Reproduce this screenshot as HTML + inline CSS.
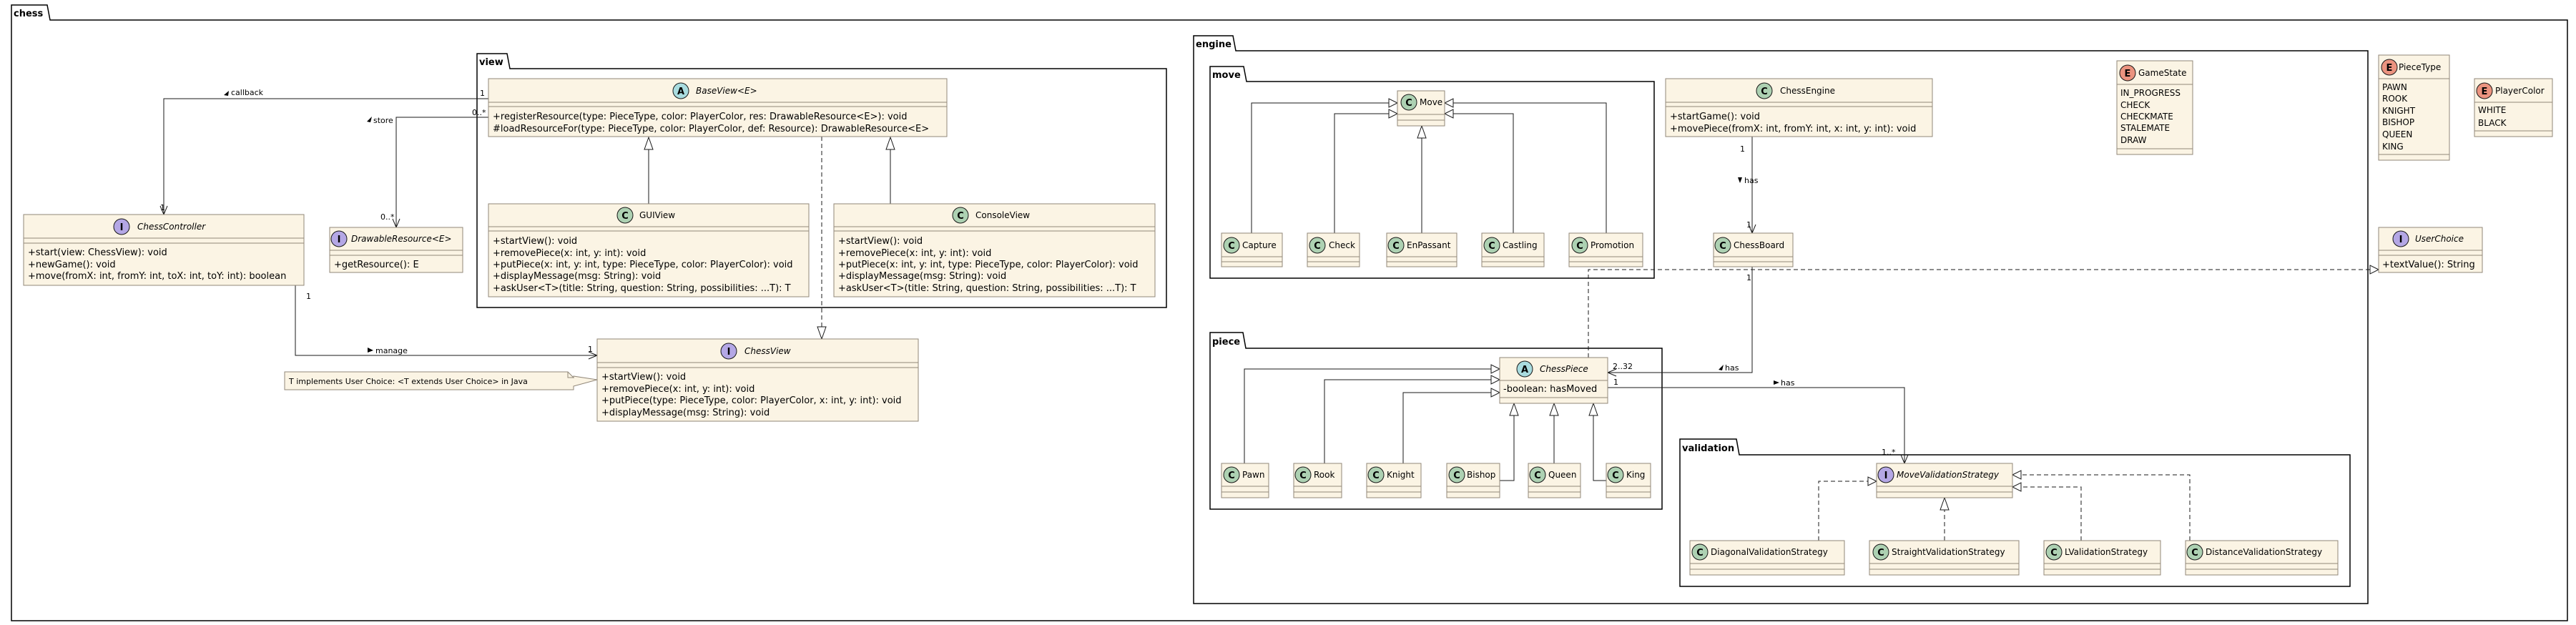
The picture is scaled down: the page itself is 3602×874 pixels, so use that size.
<!DOCTYPE html>
<html><head><meta charset="utf-8"><style>
html,body{margin:0;padding:0;background:#fff;}
svg{display:block;font-family:"DejaVu Sans","Liberation Sans",sans-serif;}
.b{fill:#FBF4E4;stroke:#918778;stroke-width:1}
.s{stroke:#918778;stroke-width:1}
.e{fill:none;stroke:#181818;stroke-width:1}
.d{stroke-dasharray:6 4}
.t{font-size:13px;fill:#000}
.h{font-size:12px;fill:#000}
.i{font-style:italic}
.m{font-size:11px;fill:#000}
.p{fill:#fff;stroke:#000;stroke-width:1.5}
.pt{font-size:13px;font-weight:bold}
.ca{fill:#A9DCDF}.cc{fill:#ADD1B2}.ci{fill:#B4A7E5}.ce{fill:#EB937F}
.ck{stroke:#181818;stroke-width:1}
.lt{font-size:13px;font-weight:bold;text-anchor:middle}
.ah{fill:none;stroke:#181818;stroke-width:1}
.tri{fill:#fff;stroke:#181818;stroke-width:1}
</style></head><body>
<svg width="3602" height="874" viewBox="0 0 3602 874" xmlns="http://www.w3.org/2000/svg">
<path class="p" d="M16,28 L16,7 L66,7 L70,28 L3590,28 L3590,868 L16,868 Z"/>
<text class="pt" x="19" y="23">chess</text>
<path class="p" d="M667,96 L667,75 L709,75 L713,96 L1631,96 L1631,430 L667,430 Z"/>
<text class="pt" x="670" y="91">view</text>
<path class="p" d="M1669,71 L1669,50 L1724,50 L1728,71 L3311,71 L3311,844 L1669,844 Z"/>
<text class="pt" x="1672" y="66">engine</text>
<path class="p" d="M1692,114 L1692,93 L1739,93 L1743,114 L2313,114 L2313,389 L1692,389 Z"/>
<text class="pt" x="1695" y="109">move</text>
<path class="p" d="M1692,487 L1692,465 L1738,465 L1742,487 L2324,487 L2324,712 L1692,712 Z"/>
<text class="pt" x="1695" y="482">piece</text>
<path class="p" d="M2349,636 L2349,614 L2428,614 L2432,636 L3286,636 L3286,820 L2349,820 Z"/>
<text class="pt" x="2352" y="631">validation</text>

<polyline class="e" points="683,138 229,138 229,300"/><polyline class="ah" points="224,288 229,300 234,288"/>
<text class="m" x="671" y="134">1</text><text class="m" x="224" y="294">1</text>
<polygon points="313,133 320,127 319,134" fill="#000"/><text class="m" x="323" y="133">callback</text>
<polyline class="e" points="683,164 554,164 554,318"/><polyline class="ah" points="549,306 554,318 559,306"/>
<text class="m" x="660" y="161">0..*</text><text class="m" x="532" y="307">0..*</text>
<polygon points="513,170 520,163 518,171" fill="#000"/><text class="m" x="522" y="172">store</text>
<polyline class="e" points="413,399 413,497 835,497"/><polyline class="ah" points="823,492 835,497 823,502"/>
<text class="m" x="428" y="418">1</text><text class="m" x="822" y="492">1</text>
<polygon points="514,486 522,490 514,493" fill="#000"/><text class="m" x="525" y="494">manage</text>
<line class="e" x1="907" y1="285" x2="907" y2="209"/><polygon class="tri" points="907,192 901,209 913,209"/>
<line class="e" x1="1245" y1="285" x2="1245" y2="209"/><polygon class="tri" points="1245,192 1239,209 1251,209"/>
<line class="e d" x1="1149" y1="191" x2="1149" y2="457"/><polygon class="tri" points="1149,474 1143,457 1155,457"/>
<path d="M398,520 L794,520 L802,528 L802,526 L835,531 L802,540 L802,545 L398,545 Z" fill="#FBF4E4" stroke="#918778"/>
<path d="M794,520 L794,528 L802,528" fill="none" stroke="#918778"/>
<text class="m" x="404" y="537">T implements User Choice: &lt;T extends User Choice&gt; in Java</text>

<polyline class="e" points="1750,326 1750,144 1942,144"/><polygon class="tri" points="1954,144 1942,138 1942,150"/>
<polyline class="e" points="1866,326 1866,159 1942,159"/><polygon class="tri" points="1954,159 1942,153 1942,165"/>
<line class="e" x1="1988" y1="326" x2="1988" y2="193"/><polygon class="tri" points="1988,176 1982,193 1994,193"/>
<polyline class="e" points="2116,326 2116,159 2032,159"/><polygon class="tri" points="2020,159 2032,153 2032,165"/>
<polyline class="e" points="2246,326 2246,144 2032,144"/><polygon class="tri" points="2020,144 2032,138 2032,150"/>
<line class="e" x1="2450" y1="191" x2="2450" y2="326"/><polyline class="ah" points="2445,314 2450,326 2455,314"/>
<text class="m" x="2433" y="212">1</text><text class="m" x="2442" y="318">1</text>
<polygon points="2430,248 2436,248 2433,256" fill="#000"/><text class="m" x="2439" y="256">has</text>
<polyline class="e" points="2450,373 2450,521 2248,521"/><polyline class="ah" points="2260,516 2248,521 2260,526"/>
<text class="m" x="2442" y="392">1</text><text class="m" x="2255" y="516">2..32</text>
<polygon points="2403,517 2410,510 2408,518" fill="#000"/><text class="m" x="2412" y="518">has</text>
<polyline class="e d" points="2221,500 2221,377 3314,377"/><polygon class="tri" points="3326,377 3314,371 3314,383"/>
<polyline class="e" points="1740,648 1740,516 2085,516"/><polygon class="tri" points="2097,516 2085,510 2085,522"/>
<polyline class="e" points="1852,648 1852,531 2085,531"/><polygon class="tri" points="2097,531 2085,525 2085,537"/>
<polyline class="e" points="1962,648 1962,549 2085,549"/><polygon class="tri" points="2097,549 2085,543 2085,555"/>
<polyline class="e" points="2097,672 2117,672 2117,581"/><polygon class="tri" points="2117,564 2111,581 2123,581"/>
<line class="e" x1="2173" y1="648" x2="2173" y2="581"/><polygon class="tri" points="2173,564 2167,581 2179,581"/>
<polyline class="e" points="2246,672 2228,672 2228,581"/><polygon class="tri" points="2228,564 2222,581 2234,581"/>
<polyline class="e" points="2248,542 2663,542 2663,648"/><polyline class="ah" points="2658,636 2663,648 2668,636"/>
<text class="m" x="2256" y="538">1</text><text class="m" x="2631" y="636">1..*</text>
<polygon points="2480,532 2488,535 2480,538" fill="#000"/><text class="m" x="2490" y="539">has</text>
<polyline class="e d" points="2543,756 2543,673 2612,673"/><polygon class="tri" points="2624,673 2612,667 2612,679"/>
<line class="e d" x1="2719" y1="756" x2="2719" y2="713"/><polygon class="tri" points="2719,696 2713,713 2725,713"/>
<polyline class="e d" points="2910,756 2910,681 2826,681"/><polygon class="tri" points="2814,681 2826,675 2826,687"/>
<polyline class="e d" points="3062,756 3062,664 2826,664"/><polygon class="tri" points="2814,664 2826,658 2826,670"/>

<g><rect class="b" x="683" y="110" width="641" height="81"/><line class="s" x1="683" x2="1324" y1="143" y2="143"/><line class="s" x1="683" x2="1324" y1="149" y2="149"/>
<circle class="ca ck" cx="952" cy="127" r="11"/><text class="lt" x="952" y="132">A</text><text class="h i" x="973" y="131">BaseView&lt;E&gt;</text>
<text class="t" x="689" y="167">+registerResource(type: PieceType, color: PlayerColor, res: DrawableResource&lt;E&gt;): void</text>
<text class="t" x="689" y="184">#loadResourceFor(type: PieceType, color: PlayerColor, def: Resource): DrawableResource&lt;E&gt;</text></g>

<g><rect class="b" x="683" y="285" width="448" height="130"/><line class="s" x1="683" x2="1131" y1="317" y2="317"/><line class="s" x1="683" x2="1131" y1="323" y2="323"/>
<circle class="cc ck" cx="874" cy="301" r="11"/><text class="lt" x="874" y="306">C</text><text class="h" x="894" y="305">GUIView</text>
<text class="t" x="689" y="341">+startView(): void</text><text class="t" x="689" y="358">+removePiece(x: int, y: int): void</text><text class="t" x="689" y="374">+putPiece(x: int, y: int, type: PieceType, color: PlayerColor): void</text><text class="t" x="689" y="390">+displayMessage(msg: String): void</text><text class="t" x="689" y="407">+askUser&lt;T&gt;(title: String, question: String, possibilities: ...T): T</text></g>

<g><rect class="b" x="1166" y="285" width="449" height="130"/><line class="s" x1="1166" x2="1615" y1="317" y2="317"/><line class="s" x1="1166" x2="1615" y1="323" y2="323"/>
<circle class="cc ck" cx="1343" cy="301" r="11"/><text class="lt" x="1343" y="306">C</text><text class="h" x="1364" y="305">ConsoleView</text>
<text class="t" x="1172" y="341">+startView(): void</text><text class="t" x="1172" y="358">+removePiece(x: int, y: int): void</text><text class="t" x="1172" y="374">+putPiece(x: int, y: int, type: PieceType, color: PlayerColor): void</text><text class="t" x="1172" y="390">+displayMessage(msg: String): void</text><text class="t" x="1172" y="407">+askUser&lt;T&gt;(title: String, question: String, possibilities: ...T): T</text></g>

<g><rect class="b" x="33" y="300" width="392" height="99"/><line class="s" x1="33" x2="425" y1="333" y2="333"/><line class="s" x1="33" x2="425" y1="340" y2="340"/>
<circle class="ci ck" cx="170" cy="317" r="11"/><text class="lt" x="170" y="322">I</text><text class="h i" x="192" y="321">ChessController</text>
<text class="t" x="39" y="357">+start(view: ChessView): void</text><text class="t" x="39" y="374">+newGame(): void</text><text class="t" x="39" y="390">+move(fromX: int, fromY: int, toX: int, toY: int): boolean</text></g>

<g><rect class="b" x="461" y="318" width="186" height="63"/><line class="s" x1="461" x2="647" y1="350" y2="350"/><line class="s" x1="461" x2="647" y1="357" y2="357"/>
<circle class="ci ck" cx="474" cy="334" r="11"/><text class="lt" x="474" y="339">I</text><text class="h i" x="491" y="338">DrawableResource&lt;E&gt;</text>
<text class="t" x="467" y="374">+getResource(): E</text></g>

<g><rect class="b" x="835" y="474" width="449" height="115"/><line class="s" x1="835" x2="1284" y1="507" y2="507"/><line class="s" x1="835" x2="1284" y1="514" y2="514"/>
<circle class="ci ck" cx="1019" cy="491" r="11"/><text class="lt" x="1019" y="496">I</text><text class="h i" x="1041" y="495">ChessView</text>
<text class="t" x="841" y="531">+startView(): void</text><text class="t" x="841" y="548">+removePiece(x: int, y: int): void</text><text class="t" x="841" y="564">+putPiece(type: PieceType, color: PlayerColor, x: int, y: int): void</text><text class="t" x="841" y="581">+displayMessage(msg: String): void</text></g>

<g><rect class="b" x="1954" y="127" width="66" height="49"/><line class="s" x1="1954" x2="2020" y1="160" y2="160"/><line class="s" x1="1954" x2="2020" y1="168" y2="168"/>
<circle class="cc ck" cx="1970" cy="143" r="11"/><text class="lt" x="1970" y="148">C</text><text class="h" x="1985" y="147">Move</text></g>

<g><rect class="b" x="1708" y="326" width="85" height="47"/><line class="s" x1="1708" x2="1793" y1="359" y2="359"/><line class="s" x1="1708" x2="1793" y1="366" y2="366"/>
<circle class="cc ck" cx="1722" cy="343" r="11"/><text class="lt" x="1722" y="348">C</text><text class="h" x="1737" y="347">Capture</text></g>
<g><rect class="b" x="1828" y="326" width="73" height="47"/><line class="s" x1="1828" x2="1901" y1="359" y2="359"/><line class="s" x1="1828" x2="1901" y1="366" y2="366"/>
<circle class="cc ck" cx="1842" cy="343" r="11"/><text class="lt" x="1842" y="348">C</text><text class="h" x="1858" y="347">Check</text></g>
<g><rect class="b" x="1939" y="326" width="98" height="47"/><line class="s" x1="1939" x2="2037" y1="359" y2="359"/><line class="s" x1="1939" x2="2037" y1="366" y2="366"/>
<circle class="cc ck" cx="1952" cy="343" r="11"/><text class="lt" x="1952" y="348">C</text><text class="h" x="1967" y="347">EnPassant</text></g>
<g><rect class="b" x="2072" y="326" width="87" height="47"/><line class="s" x1="2072" x2="2159" y1="359" y2="359"/><line class="s" x1="2072" x2="2159" y1="366" y2="366"/>
<circle class="cc ck" cx="2086" cy="343" r="11"/><text class="lt" x="2086" y="348">C</text><text class="h" x="2101" y="347">Castling</text></g>
<g><rect class="b" x="2194" y="326" width="103" height="47"/><line class="s" x1="2194" x2="2297" y1="359" y2="359"/><line class="s" x1="2194" x2="2297" y1="366" y2="366"/>
<circle class="cc ck" cx="2209" cy="343" r="11"/><text class="lt" x="2209" y="348">C</text><text class="h" x="2224" y="347">Promotion</text></g>

<g><rect class="b" x="2329" y="110" width="373" height="81"/><line class="s" x1="2329" x2="2702" y1="143" y2="143"/><line class="s" x1="2329" x2="2702" y1="149" y2="149"/>
<circle class="cc ck" cx="2467" cy="127" r="11"/><text class="lt" x="2467" y="132">C</text><text class="h" x="2489" y="131">ChessEngine</text>
<text class="t" x="2335" y="167">+startGame(): void</text><text class="t" x="2335" y="184">+movePiece(fromX: int, fromY: int, x: int, y: int): void</text></g>

<g><rect class="b" x="2396" y="326" width="111" height="47"/><line class="s" x1="2396" x2="2507" y1="359" y2="359"/><line class="s" x1="2396" x2="2507" y1="366" y2="366"/>
<circle class="cc ck" cx="2409" cy="343" r="11"/><text class="lt" x="2409" y="348">C</text><text class="h" x="2424" y="347">ChessBoard</text></g>

<g><rect class="b" x="2960" y="85" width="106" height="131"/><line class="s" x1="2960" x2="3066" y1="118" y2="118"/><line class="s" x1="2960" x2="3066" y1="208" y2="208"/>
<circle class="ce ck" cx="2975" cy="102" r="11"/><text class="lt" x="2975" y="107">E</text><text class="h" x="2990" y="106">GameState</text>
<text class="h" x="2965" y="134">IN_PROGRESS</text><text class="h" x="2965" y="151">CHECK</text><text class="h" x="2965" y="167">CHECKMATE</text><text class="h" x="2965" y="183">STALEMATE</text><text class="h" x="2965" y="200">DRAW</text></g>

<g><rect class="b" x="3326" y="77" width="99" height="147"/><line class="s" x1="3326" x2="3425" y1="110" y2="110"/><line class="s" x1="3326" x2="3425" y1="216" y2="216"/>
<circle class="ce ck" cx="3341" cy="94" r="11"/><text class="lt" x="3341" y="99">E</text><text class="h" x="3354" y="98">PieceType</text>
<text class="h" x="3331" y="126">PAWN</text><text class="h" x="3331" y="142">ROOK</text><text class="h" x="3331" y="159">KNIGHT</text><text class="h" x="3331" y="175">BISHOP</text><text class="h" x="3331" y="192">QUEEN</text><text class="h" x="3331" y="209">KING</text></g>

<g><rect class="b" x="3460" y="110" width="109" height="81"/><line class="s" x1="3460" x2="3569" y1="143" y2="143"/><line class="s" x1="3460" x2="3569" y1="183" y2="183"/>
<circle class="ce ck" cx="3474" cy="127" r="11"/><text class="lt" x="3474" y="132">E</text><text class="h" x="3489" y="131">PlayerColor</text>
<text class="h" x="3465" y="158">WHITE</text><text class="h" x="3465" y="176">BLACK</text></g>

<g><rect class="b" x="3326" y="318" width="145" height="63"/><line class="s" x1="3326" x2="3471" y1="350" y2="350"/><line class="s" x1="3326" x2="3471" y1="357" y2="357"/>
<circle class="ci ck" cx="3357" cy="334" r="11"/><text class="lt" x="3357" y="339">I</text><text class="h i" x="3377" y="338">UserChoice</text>
<text class="t" x="3331" y="374">+textValue(): String</text></g>

<g><rect class="b" x="2097" y="500" width="151" height="64"/><line class="s" x1="2097" x2="2248" y1="532" y2="532"/><line class="s" x1="2097" x2="2248" y1="556" y2="556"/>
<circle class="ca ck" cx="2132" cy="516" r="11"/><text class="lt" x="2132" y="521">A</text><text class="h i" x="2153" y="520">ChessPiece</text>
<text class="t" x="2102" y="548">-boolean: hasMoved</text></g>

<g><rect class="b" x="1708" y="648" width="66" height="48"/><line class="s" x1="1708" x2="1774" y1="680" y2="680"/><line class="s" x1="1708" x2="1774" y1="688" y2="688"/>
<circle class="cc ck" cx="1722" cy="664" r="11"/><text class="lt" x="1722" y="669">C</text><text class="h" x="1737" y="668">Pawn</text></g>
<g><rect class="b" x="1809" y="648" width="67" height="48"/><line class="s" x1="1809" x2="1876" y1="680" y2="680"/><line class="s" x1="1809" x2="1876" y1="688" y2="688"/>
<circle class="cc ck" cx="1822" cy="664" r="11"/><text class="lt" x="1822" y="669">C</text><text class="h" x="1837" y="668">Rook</text></g>
<g><rect class="b" x="1911" y="648" width="76" height="48"/><line class="s" x1="1911" x2="1987" y1="680" y2="680"/><line class="s" x1="1911" x2="1987" y1="688" y2="688"/>
<circle class="cc ck" cx="1924" cy="664" r="11"/><text class="lt" x="1924" y="669">C</text><text class="h" x="1939" y="668">Knight</text></g>
<g><rect class="b" x="2023" y="648" width="74" height="48"/><line class="s" x1="2023" x2="2097" y1="680" y2="680"/><line class="s" x1="2023" x2="2097" y1="688" y2="688"/>
<circle class="cc ck" cx="2037" cy="664" r="11"/><text class="lt" x="2037" y="669">C</text><text class="h" x="2051" y="668">Bishop</text></g>
<g><rect class="b" x="2137" y="648" width="73" height="48"/><line class="s" x1="2137" x2="2210" y1="680" y2="680"/><line class="s" x1="2137" x2="2210" y1="688" y2="688"/>
<circle class="cc ck" cx="2150" cy="664" r="11"/><text class="lt" x="2150" y="669">C</text><text class="h" x="2165" y="668">Queen</text></g>
<g><rect class="b" x="2246" y="648" width="62" height="48"/><line class="s" x1="2246" x2="2308" y1="680" y2="680"/><line class="s" x1="2246" x2="2308" y1="688" y2="688"/>
<circle class="cc ck" cx="2259" cy="664" r="11"/><text class="lt" x="2259" y="669">C</text><text class="h" x="2274" y="668">King</text></g>

<g><rect class="b" x="2624" y="648" width="190" height="48"/><line class="s" x1="2624" x2="2814" y1="680" y2="680"/><line class="s" x1="2624" x2="2814" y1="688" y2="688"/>
<circle class="ci ck" cx="2637" cy="664" r="11"/><text class="lt" x="2637" y="669">I</text><text class="h i" x="2652" y="668">MoveValidationStrategy</text></g>
<g><rect class="b" x="2363" y="756" width="216" height="48"/><line class="s" x1="2363" x2="2579" y1="788" y2="788"/><line class="s" x1="2363" x2="2579" y1="796" y2="796"/>
<circle class="cc ck" cx="2377" cy="772" r="11"/><text class="lt" x="2377" y="777">C</text><text class="h" x="2392" y="776">DiagonalValidationStrategy</text></g>
<g><rect class="b" x="2614" y="756" width="209" height="48"/><line class="s" x1="2614" x2="2823" y1="788" y2="788"/><line class="s" x1="2614" x2="2823" y1="796" y2="796"/>
<circle class="cc ck" cx="2630" cy="772" r="11"/><text class="lt" x="2630" y="777">C</text><text class="h" x="2645" y="776">StraightValidationStrategy</text></g>
<g><rect class="b" x="2858" y="756" width="163" height="48"/><line class="s" x1="2858" x2="3021" y1="788" y2="788"/><line class="s" x1="2858" x2="3021" y1="796" y2="796"/>
<circle class="cc ck" cx="2872" cy="772" r="11"/><text class="lt" x="2872" y="777">C</text><text class="h" x="2887" y="776">LValidationStrategy</text></g>
<g><rect class="b" x="3056" y="756" width="213" height="48"/><line class="s" x1="3056" x2="3269" y1="788" y2="788"/><line class="s" x1="3056" x2="3269" y1="796" y2="796"/>
<circle class="cc ck" cx="3069" cy="772" r="11"/><text class="lt" x="3069" y="777">C</text><text class="h" x="3084" y="776">DistanceValidationStrategy</text></g>
</svg>
</body></html>
